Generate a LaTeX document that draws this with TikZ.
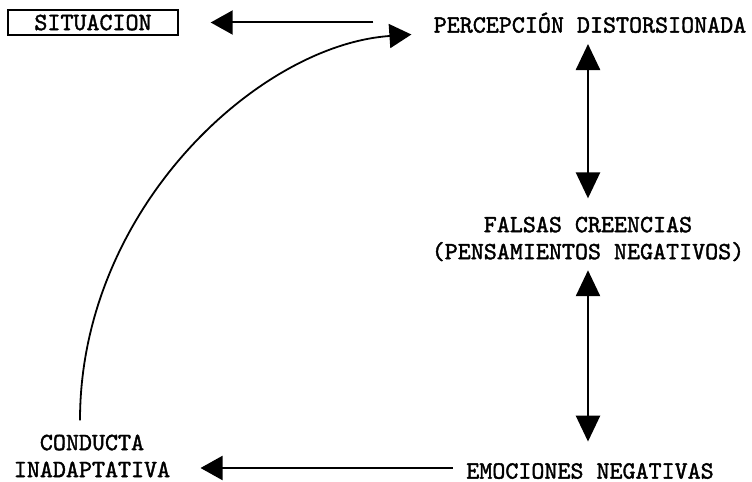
\documentclass[tikz,border=0pt]{standalone}
\usepackage{fontspec}
\newfontfamily\typew{lmmono10-regular.otf}[FakeBold=1.6]
\usepackage{tikz}
\usetikzlibrary{positioning}
\usetikzlibrary{calc}
\usetikzlibrary{arrows.meta}

\tikzset{
  lbl/.style={font=\fontsize{12.4}{13.5}\selectfont\typew, inner sep=0pt},
  onelbl/.style={lbl, text height=7.6pt, text depth=0pt},
  twolbl/.style={lbl, align=center},
  boxlbl/.style={onelbl, draw, line width=0.7pt, minimum width=85pt, minimum height=12.5pt},
  tip/.style={-{Triangle[length=11pt,width=12pt]}, line width=1pt},
  dbl/.style={{Triangle[length=13pt,width=12pt]}-{Triangle[length=13pt,width=12pt]}, line width=1.3pt},
}

\begin{document}
\begin{tikzpicture}[x=0.5pt,y=-0.5pt]

\useasboundingbox (0,0) rectangle (752,482);

%---------------------------------------
% Texts
%---------------------------------------
\node[boxlbl] (sit) at (93,22.5) {SITUACION};
\node[onelbl] (per) at (590,25) {PERCEPCIÓN DISTORSIONADA};
\node[twolbl] (fal) at (588,239) {FALSAS CREENCIAS\\(PENSAMIENTOS NEGATIVOS)};
\node[onelbl] (emo) at (590,471) {EMOCIONES NEGATIVAS};
\node[twolbl] (con) at (92,456) {CONDUCTA\\INADAPTATIVA};

%---------------------------------------
% Arrows
%---------------------------------------
% top and bottom
\draw[tip, shorten >=16pt, shorten <=30pt] (sit.east -| per.west) -- (sit.east);
\draw[tip, shorten >=15pt, shorten <=6.5pt] ([yshift=1.5pt]emo.west) -- ([yshift=1.5pt]emo.west -| con.east);

% right column
\draw[dbl, shorten <=5.5pt, shorten >=9pt] (per.south -| fal.north) -- (fal.north);
\draw[dbl, shorten <=4.3pt, shorten >=10.7pt] (fal.south) -- (fal.south |- emo.north);

% back to the perception
\draw[tip, line width=0.9pt, shorten <=7pt, shorten >=11pt]
  ([xshift=-6pt]con.north) .. controls +(0,-225) and +(-175,12) .. ([yshift=-4pt]per.west);

\end{tikzpicture}
\end{document}
